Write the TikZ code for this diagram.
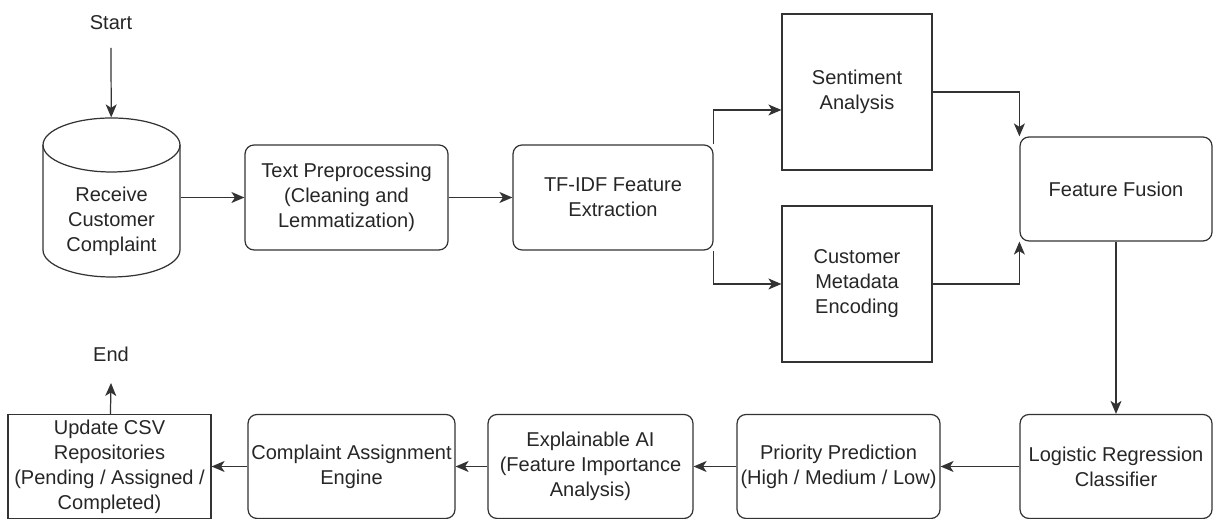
\documentclass[tikz,border=0pt]{standalone}
\usepackage{fontspec}
\setmainfont{Liberation Sans}
\usetikzlibrary{arrows.meta}

\begin{document}
\begin{tikzpicture}[x=0.02cm,y=0.02cm,>={Stealth[length=0.26cm,width=0.22cm,inset=0.07cm]},
  line width=0.7pt, draw=black!80,
  every node/.style={font=\fontsize{11.4}{14.2}\selectfont, align=center, text=black!85},
  box/.style={draw=black!80, minimum width=#1, minimum height=2.08cm, inner sep=1pt},
  rbox/.style={box=#1, rounded corners=0.18cm},
  tallbox/.style={draw=black!80, minimum width=3cm, minimum height=3.12cm}]
  \useasboundingbox (0,0) rectangle (1214,519);

  \node (start) at (111,496) {Start};
  \coordinate (starttail) at (111,471);
  \node[minimum width=2.74cm, minimum height=3.18cm] (cyl) at (111.5,321.5) {};
  \draw (43,374) -- (43,269) arc[start angle=180,end angle=360,x radius=1.37cm,y radius=0.54cm] -- (180,374);
  \draw (111.5,374) ellipse [x radius=1.37cm,y radius=0.54cm];
  \node (recv) at (111.5,298) {Receive\\Customer\\Complaint};

  \node[rbox=4.06cm, minimum height=2.1cm] (prep) at (346.5,321.5) {Text Preprocessing\\(Cleaning and\\Lemmatization)};
  \node[rbox=4cm, minimum height=2.1cm] (tfidf) at (613,321.5) {TF-IDF Feature\\Extraction};
  \node[tallbox] (senti) at (857,427) {Sentiment\\Analysis};
  \node[tallbox] (meta) at (857,235) {Customer\\Metadata\\Encoding};
  \node[rbox=3.84cm] (fusion) at (1116,330) {Feature Fusion};

  \node[rbox=3.84cm] (logreg) at (1116,52.5) {Logistic Regression\\Classifier};
  \node[rbox=4.06cm] (prio) at (838.5,52.5) {Priority Prediction\\(High / Medium / Low)};
  \node[rbox=4.1cm] (xai) at (590.5,52.5) {Explainable AI\\(Feature Importance\\Analysis)};
  \node[rbox=4.14cm] (assign) at (351.5,52.5) {Complaint Assignment\\Engine};
  \node[box=4.06cm] (update) at (109.5,52.5) {Update CSV\\Repositories\\(Pending / Assigned /\\Completed)};
  \node (end) at (111,165) {End};
  \coordinate (endtip) at (111,136);

  \draw[->] (starttail) -- (cyl);
  \draw[->] (cyl) -- (prep);
  \draw[->] (prep) -- (tfidf);
  \draw[->] (tfidf.north east) |- ([yshift=-0.36cm]senti.west);
  \draw[->] (tfidf.south east) |- (meta);
  \draw[->] (senti) -| (fusion.north west);
  \draw[->] (meta) -| (fusion.south west);
  \draw[->] (fusion) -- (logreg);
  \draw[->] (logreg) -- (prio);
  \draw[->] (prio) -- (xai);
  \draw[->] (xai) -- (assign);
  \draw[->] (assign) -- (update);
  \draw[->] (update) -- (endtip);
\end{tikzpicture}
\end{document}
